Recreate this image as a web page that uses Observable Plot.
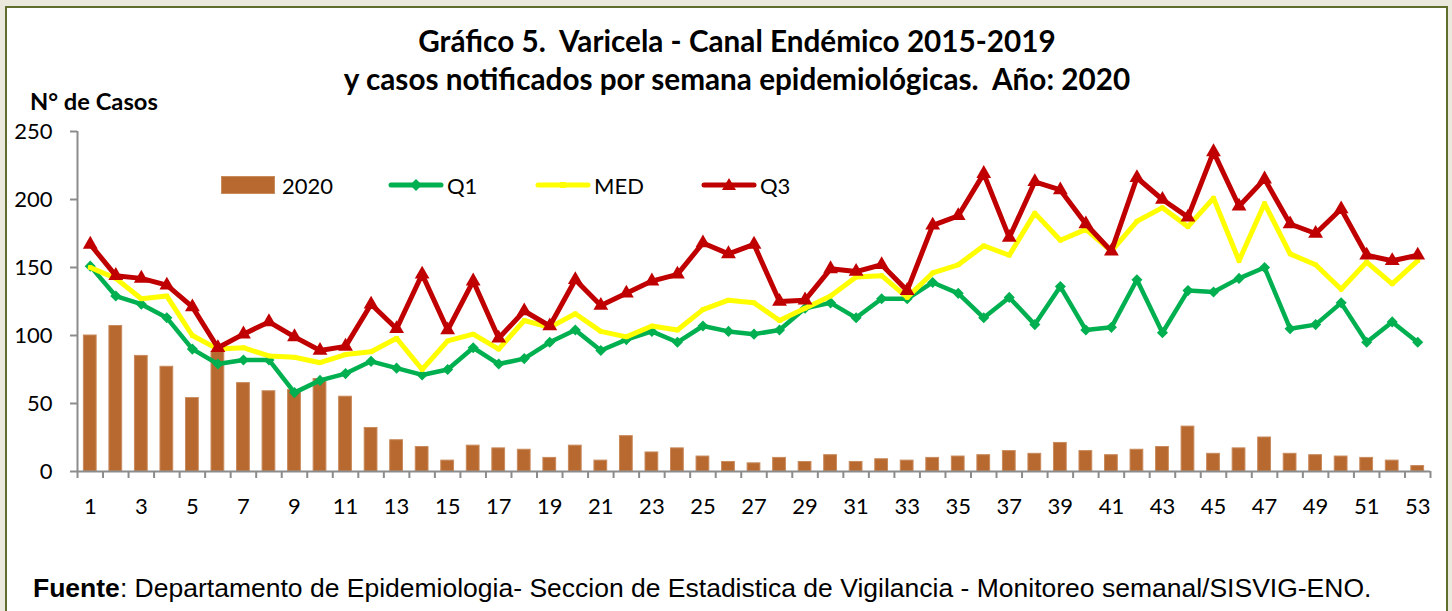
<!DOCTYPE html>
<html>
<head>
<meta charset="utf-8">
<script src="https://cdn.jsdelivr.net/npm/d3@7"></script>
<script src="https://cdn.jsdelivr.net/npm/@observablehq/plot@0.6"></script>
<style>
  html, body { margin: 0; padding: 0; background: #ebe8de; width: 1452px; height: 611px; overflow: hidden; }
  #frame { position: absolute; left: 5px; top: 6px; width: 1439px; height: 640px; border: 2px solid #5f6d2e; background: #fff; }
  .t { position: absolute; white-space: nowrap; color: #000; }
  #title { left: 237px; width: 1000px; top: 22px; text-align: center; font-family: Lato, sans-serif; font-weight: 700; font-size: 29.7px; line-height: 38px; }
  #ylab { left: 30px; top: 87px; font-family: Lato, sans-serif; font-weight: 700; font-size: 23.7px; line-height: 28px; }
  #chart { position: absolute; left: 0; top: 0; }
  .leg { position: absolute; top: 172px; height: 26px; display: flex; align-items: center; font-family: Lato, sans-serif; font-size: 22px; }
  .leg svg { display: block; margin-right: 5px; }
  #foot { left: 33px; top: 573px; font-family: "Liberation Sans", Arial, sans-serif; font-size: 26.5px; line-height: 30px; }
</style>
</head>
<body>
<div id="frame"></div>
<div class="t" id="title">Gráfico 5.&nbsp; Varicela - Canal Endémico 2015-2019<br>y casos notificados por semana epidemiológicas.&nbsp; Año: 2020</div>
<div class="t" id="ylab">N° de Casos</div>
<div id="chart"></div>
<div id="legend"></div>
<div class="t" id="foot"><b>Fuente</b>: Departamento de Epidemiologia- Seccion de Estadistica de Vigilancia - Monitoreo semanal/SISVIG-ENO.</div>
<script>
const weeks = [1,2,3,4,5,6,7,8,9,10,11,12,13,14,15,16,17,18,19,20,21,22,23,24,25,26,27,28,29,30,31,32,33,34,35,36,37,38,39,40,41,42,43,44,45,46,47,48,49,50,51,52,53];
const cases2020 = [100,107,85,77,54,88,65,59,60,68,55,32,23,18,8,19,17,16,10,19,8,26,14,17,11,7,6,10,7,12,7,9,8,10,11,12,15,13,21,15,12,16,18,33,13,17,25,13,12,11,10,8,4];
const q1  = [151,129,123,113,90,79,82,82,58,67,72,81,76,71,75,91,79,83,95,104,89,97,103,95,107,103,101,104,120,124,113,127,127,139,131,113,128,108,136,104,106,141,102,133,132,142,150,105,108,124,95,110,95];
const med = [150,142,127,129,100,90,91,85,84,80,86,88,98,75,96,101,90,111,106,116,103,99,107,104,119,126,124,111,120,129,143,144,128,146,152,166,159,190,170,178,162,184,194,180,201,155,197,160,152,134,154,138,155];
const q3  = [167,144,142,137,121,91,101,110,99,89,92,123,105,145,104,140,98,118,107,141,122,131,140,145,168,160,167,125,126,149,147,152,133,181,188,219,172,213,207,182,162,216,200,187,235,195,215,182,175,193,159,155,159];
const yTicks = [0,50,100,150,200,250];
const xLabels = [1,3,5,7,9,11,13,15,17,19,21,23,25,27,29,31,33,35,37,39,41,43,45,47,49,51,53];
const seriesNames = ["2020","Q1","MED","Q3"];
const colors = {bar: "#b8692f", q1: "#00b050", med: "#ffff00", q3: "#c00000", axis: "#8c8c8c"};

const rows = weeks.map((w, i) => ({week: w, cases: cases2020[i], q1: q1[i], med: med[i], q3: q3[i]}));
const boundaries = [weeks[0] - 0.5, ...weeks.map(w => w + 0.5)];

const chart = Plot.plot({
  width: 1452,
  height: 540,
  marginLeft: 77,
  marginRight: 22,
  marginTop: 131,
  marginBottom: 69,
  x: {type: "linear", domain: [weeks[0] - 0.5, weeks[weeks.length - 1] + 0.5], label: null},
  y: {domain: [0, 250], label: null},
  style: {fontFamily: "Lato, sans-serif", fontSize: "22px", color: "#000", background: "transparent", overflow: "visible"},
  marks: [
    Plot.rectY(rows, {x1: d => d.week - 0.25, x2: d => d.week + 0.25, y: "cases", fill: colors.bar, stroke: "#c98a5c", strokeWidth: 1}),
    Plot.ruleY([0], {stroke: colors.axis, strokeWidth: 2}),
    Plot.ruleX([boundaries[0]], {stroke: colors.axis, strokeWidth: 2}),
    Plot.axisY({ticks: yTicks, tickSize: 7, tickPadding: 18, stroke: colors.axis, strokeWidth: 2, fill: "#000", label: null, fontSize: 22}),
    Plot.axisX({ticks: boundaries, tickSize: 7, tickFormat: () => "", stroke: colors.axis, strokeWidth: 2, label: null}),
    Plot.axisX({ticks: xLabels, tickSize: 0, tickPadding: 27, fill: "#000", label: null, fontSize: 22}),
    Plot.line(rows, {x: "week", y: "q1", stroke: colors.q1, strokeWidth: 4.5}),
    Plot.dot(rows, {x: "week", y: "q1", symbol: "diamond2", r: 5, fill: colors.q1}),
    Plot.line(rows, {x: "week", y: "med", stroke: colors.med, strokeWidth: 5}),
    Plot.dot(rows, {x: "week", y: "med", symbol: "square", r: 2.5, fill: colors.med}),
    Plot.line(rows, {x: "week", y: "q3", stroke: colors.q3, strokeWidth: 5}),
    Plot.dot(rows, {x: "week", y: "q3", symbol: "triangle", r: 5.5, fill: colors.q3})
  ]
});
document.getElementById("chart").appendChild(chart);

// legend
const legendItems = [
  {name: seriesNames[0], left: 221, kind: "bar", color: colors.bar},
  {name: seriesNames[1], left: 388, kind: "diamond", color: colors.q1},
  {name: seriesNames[2], left: 535, kind: "square", color: colors.med},
  {name: seriesNames[3], left: 701, kind: "triangle", color: colors.q3}
];
const legend = document.getElementById("legend");
for (const it of legendItems) {
  const div = document.createElement("div");
  div.className = "leg";
  div.style.left = it.left + "px";
  let sw;
  if (it.kind === "bar") {
    sw = `<svg width="54" height="18"><rect x="0.5" y="0.5" width="53" height="17" fill="${it.color}" stroke="#c98a5c"/></svg>`;
  } else {
    let marker = "";
    if (it.kind === "diamond") marker = `<path d="M28,3 L34,9 L28,15 L22,9 Z" fill="${it.color}"/>`;
    if (it.kind === "square") marker = `<rect x="25" y="6" width="6" height="6" fill="${it.color}"/>`;
    if (it.kind === "triangle") marker = `<path d="M28,2 L35,14 L21,14 Z" fill="${it.color}"/>`;
    sw = `<svg width="56" height="18"><line x1="3" y1="9" x2="53" y2="9" stroke="${it.color}" stroke-width="5" stroke-linecap="round"/>${marker}</svg>`;
  }
  div.innerHTML = sw + `<span style="margin-left:${it.kind === 'bar' ? 2 : -2}px">${it.name}</span>`;
  legend.appendChild(div);
}
</script>
</body>
</html>
